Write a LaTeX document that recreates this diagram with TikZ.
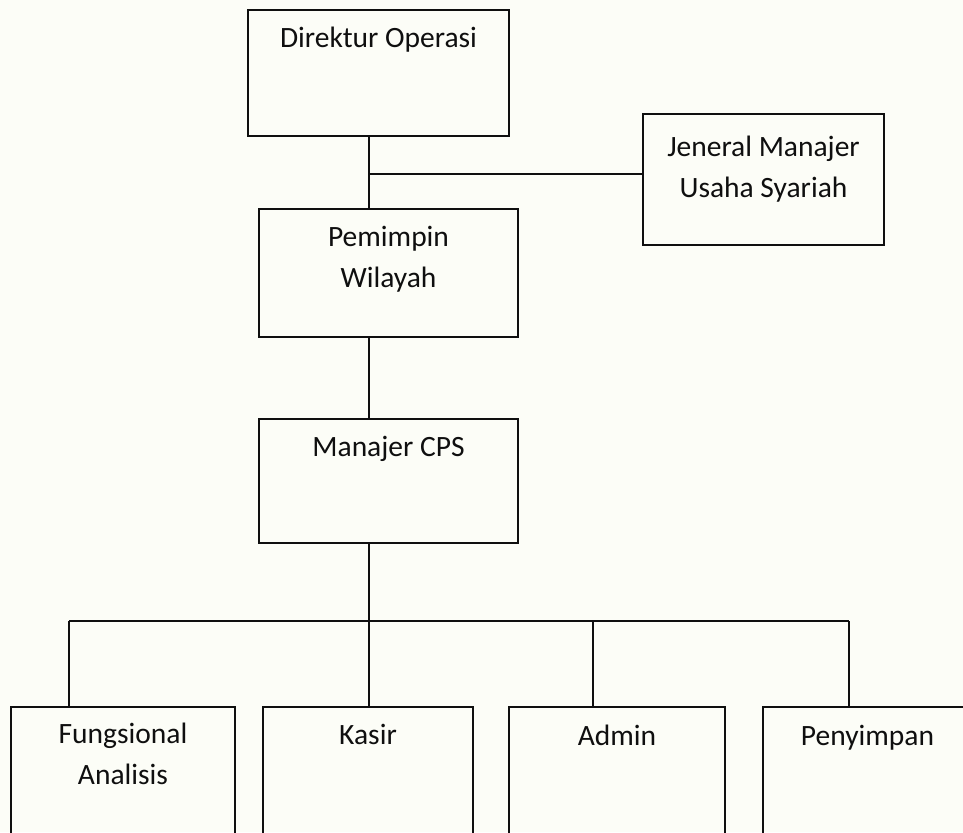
\documentclass[tikz,border=0pt]{standalone}
\usepackage{fontspec}
\setmainfont{Carlito}
\definecolor{paper}{RGB}{252,253,247}
\definecolor{ink}{RGB}{15,15,15}
\begin{document}
\begin{tikzpicture}[x=1pt,y=-1pt,
  box/.style={draw=ink, line width=2.3pt, inner sep=0pt, minimum width=#1},
  lbl/.style={anchor=base, inner sep=0pt, align=center, text=ink,
    font=\fontsize{29.5}{41}\selectfont},
  wire/.style={draw=ink, line width=2.3pt}]
  % page area
  \path[use as bounding box] (0,0) rectangle (963,832);
  \clip (0,0) rectangle (963,832);
  \fill[paper] (0,0) rectangle (963,832);

  % boxes
  \node[box=261, minimum height=126] (dir) at (378.5,73) {};
  \node[box=241, minimum height=131] (jm)  at (763.5,179.5) {};
  \node[box=259, minimum height=128] (pem) at (388.5,273) {};
  \node[box=259, minimum height=124] (cps) at (388.5,481) {};
  \node[box=224, minimum height=140] (fa)  at (123,777) {};
  \node[box=210, minimum height=140] (kas) at (368,777) {};
  \node[box=216, minimum height=140] (adm) at (617,777) {};
  \node[box=209, minimum height=140] (pen) at (867.5,777) {};

  % box titles (base anchor sits on the last line of a two-line title)
  \node[lbl] (dirT) at ([yshift=-39]dir.north) {Direktur Operasi};
  \node[lbl] (jmT)  at ([yshift=-85]jm.north)  {Jeneral Manajer\\Usaha Syariah};
  \node[lbl] (pemT) at ([yshift=-80]pem.north) {Pemimpin\\Wilayah};
  \node[lbl] (cpsT) at ([yshift=-39]cps.north) {Manajer CPS};
  \node[lbl] (faT)  at ([yshift=-79]fa.north)  {Fungsional\\Analisis};
  \node[lbl] (kasT) at ([yshift=-39]kas.north) {Kasir};
  \node[lbl] (admT) at ([yshift=-40]adm.north) {Admin};
  \node[lbl] (penT) at ([yshift=-40]pen.north) {Penyimpan};

  % junction points of the connectors
  \coordinate (sj) at (369,174);
  \coordinate (d1) at (69,621);
  \coordinate (d2) at (369,621);
  \coordinate (d3) at (593,621);
  \coordinate (d4) at (849,621);

  % upper spine with the side branch
  \draw[wire] (dir.south -| sj) -- (pem.north -| sj);
  \draw[wire] (sj) -- (sj -| jm.west);
  \draw[wire] (pem.south -| sj) -- (cps.north -| sj);

  % lower bus
  \draw[wire] (cps.south -| d2) -- (d2);
  \draw[wire] (d1) -- (d4);
  \draw[wire] (d1) -- (d1 |- fa.north);
  \draw[wire] (d2) -- (d2 |- kas.north);
  \draw[wire] (d3) -- (d3 |- adm.north);
  \draw[wire] (d4) -- (d4 |- pen.north);
\end{tikzpicture}
\end{document}
